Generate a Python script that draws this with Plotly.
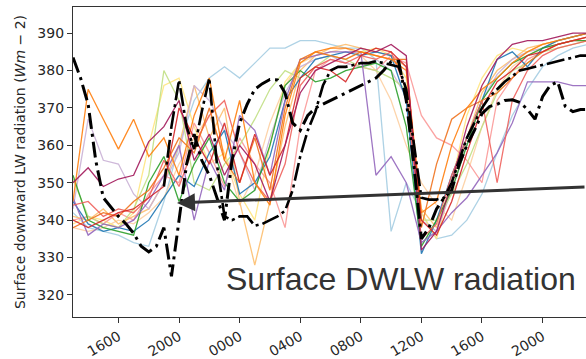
import pandas as pd
import plotly.graph_objects as go

# ---------------------------------------------------------------------------
# Time axes: hourly ensemble output and half-hourly reference series
# ---------------------------------------------------------------------------
START = "2019-06-01 13:00"
hourly = pd.date_range(START, periods=35, freq="h")
half_hourly = pd.date_range(START, periods=69, freq="30min")

# Ensemble members, surface downward LW radiation (W m-2), hourly
member_blue = [345, 339, 337, 338, 337, 340, 346, 352, 349, 358, 364, 347, 350, 357, 372, 378, 383, 384,
               385, 384, 385, 384, 372, 331, 340, 352, 362, 372, 383, 385, 381, 386, 388, 389, 390]
member_orange = [345, 375, 367, 359, 367, 357, 362, 352, 368, 378, 356, 372, 350, 344, 368, 382, 385, 386,
                 386, 385, 384, 383, 380, 342, 345, 360, 370, 375, 378, 382, 385, 387, 388, 389, 390]
member_green = [352, 340, 338, 337, 336, 350, 357, 345, 355, 362, 350, 345, 348, 360, 376, 380, 377, 378,
                380, 381, 382, 380, 365, 333, 340, 348, 360, 372, 378, 382, 384, 386, 387, 388, 388]
member_red = [340, 338, 340, 342, 343, 346, 349, 370, 362, 355, 366, 350, 363, 352, 360, 378, 381, 380,
              377, 384, 386, 385, 381, 340, 336, 345, 358, 370, 377, 380, 384, 385, 387, 388, 389]
member_purple = [346, 336, 339, 338, 340, 345, 352, 360, 340, 356, 348, 368, 364, 352, 372, 383, 384, 385,
                 385, 385, 352, 357, 350, 334, 337, 342, 346, 352, 358, 366, 377, 377, 377, 376, 376]
member_lightblue = [342, 338, 337, 336, 334, 333, 345, 360, 372, 378, 381, 378, 382, 386, 386, 388, 388, 387,
                    386, 386, 383, 337, 350, 342, 335, 336, 340, 347, 358, 368, 375, 381, 384, 386, 387]
member_lightorange = [341, 340, 343, 339, 341, 343, 350, 360, 376, 362, 370, 345, 328, 345, 365, 380, 384, 386,
                      387, 386, 385, 384, 381, 343, 338, 350, 362, 374, 380, 383, 386, 387, 388, 389, 390]
member_yellow = [339, 341, 340, 338, 342, 360, 376, 378, 365, 355, 358, 347, 340, 360, 377, 382, 385, 384,
                 383, 385, 386, 384, 378, 342, 335, 350, 368, 378, 384, 386, 385, 387, 388, 389, 390]
member_pink = [340, 341, 339, 342, 340, 347, 352, 350, 366, 358, 349, 362, 355, 350, 338, 365, 380, 383,
               382, 381, 380, 384, 382, 368, 362, 360, 356, 350, 372, 378, 383, 385, 387, 388, 388]
member_maroon = [350, 354, 349, 351, 352, 361, 365, 372, 356, 363, 352, 360, 355, 345, 360, 374, 380, 382,
                 384, 386, 385, 387, 384, 332, 337, 350, 365, 376, 383, 387, 388, 388, 389, 390, 390]
member_lavender = [343, 367, 356, 355, 347, 343, 350, 358, 376, 372, 364, 358, 348, 362, 374, 381, 383, 384,
                   382, 381, 383, 380, 373, 340, 337, 348, 360, 372, 379, 383, 385, 386, 387, 388, 389]
member_lime = [351, 341, 339, 338, 343, 352, 380, 372, 350, 348, 355, 360, 367, 375, 380, 378, 381, 384,
               383, 381, 380, 378, 375, 340, 340, 347, 355, 365, 374, 380, 382, 385, 386, 387, 388]
member_darkorange = [338, 340, 342, 341, 345, 348, 354, 362, 358, 370, 356, 350, 362, 348, 370, 383, 385, 384,
                     383, 385, 384, 383, 383, 338, 355, 367, 370, 372, 374, 378, 382, 385, 387, 388, 389]
member_peach = [338, 337, 338, 340, 339, 342, 346, 355, 362, 368, 358, 344, 352, 366, 376, 382, 384, 385,
                386, 384, 380, 372, 360, 350, 344, 340, 352, 365, 375, 381, 384, 386, 388, 389, 390]
member_salmon = [344, 345, 341, 343, 342, 346, 356, 349, 360, 368, 372, 358, 350, 345, 355, 376, 381, 383,
                 382, 384, 383, 385, 375, 335, 339, 352, 362, 372, 350, 372, 380, 384, 386, 387, 388]

# Reference series, half-hourly
obs_main = [383.5, 378, 371, 356, 346, 343.5, 341, 339, 336.5, 333, 331.5, 333, 338, 325, 340, 355, 363,
            356, 352, 346, 340, 356, 366, 371, 375, 376.5, 377.6, 377.5, 374, 366, 364, 368, 370, 371,
            372, 373, 374, 375, 376, 377, 378, 380, 382.4, 382.5, 372, 355, 335, 338, 343, 346, 348,
            355, 360, 364, 368.5, 370.4, 371, 372, 372.2, 371.5, 369.6, 367, 373, 376, 377, 370.4, 369,
            369.6, 369.6]
obs_second = [None] * 12 + [349, 365, 377.5, 365, 359, 369, 378, 355, 341, 340, 341, 341, 338.5, 339, 340,
                            341, 342.5, 348, 357, 364, 369, 376, 380, 381, 381, 381.5, 382, 382, 382.5, 382,
                            381.5, 381, 375, 360, 346, 345.5, 345.5, 346, 350, 356, 362, 366, 370, 373, 375,
                            377, 378.5, 380, 380.5, 381, 381.5, 382, 382.5, 383, 383.5, 384, 384]

ensemble = [
    (member_lightblue, "#a6cee3"),
    (member_peach, "#fdd0a2"),
    (member_yellow, "#ffe680"),
    (member_lightorange, "#fdbf6f"),
    (member_pink, "#fb9a99"),
    (member_lavender, "#cab2d6"),
    (member_lime, "#c2e085"),
    (member_blue, "#1f77b4"),
    (member_green, "#2ca02c"),
    (member_purple, "#9467bd"),
    (member_salmon, "#f0625d"),
    (member_darkorange, "#f0731e"),
    (member_orange, "#ff7f0e"),
    (member_red, "#d62728"),
    (member_maroon, "#a3195b"),
]

fig = go.Figure()

for values, colour in ensemble:
    fig.add_trace(go.Scatter(x=hourly, y=values, mode="lines",
                             line=dict(color=colour, width=1.3), opacity=0.9,
                             hoverinfo="skip"))

fig.add_trace(go.Scatter(x=half_hourly, y=obs_second, mode="lines",
                         line=dict(color="black", width=2.6, dash="18px,4px,3px,4px"),
                         connectgaps=False))
fig.add_trace(go.Scatter(x=half_hourly, y=obs_main, mode="lines",
                         line=dict(color="black", width=3, dash="16px,5px,3px,5px")))

# Arrow pointing at the evening dip of the reference series
ARROW_TIME = "2019-06-01 19:52"
ARROW_VALUE = 344.6
fig.add_annotation(x=ARROW_TIME, y=ARROW_VALUE, xref="x", yref="y", text="",
                   showarrow=True, arrowhead=2, arrowsize=1.2, arrowwidth=3,
                   arrowcolor="#333333", ax=409, ay=-16)
fig.add_annotation(x=0.295, y=0.1226, xref="paper", yref="paper", xanchor="left", yanchor="middle",
                   text="Surface DWLW radiation", showarrow=False,
                   font=dict(family="Liberation Sans, Arial, sans-serif", size=32, color="#333333"))

fig.update_layout(
    width=586, height=359,
    margin=dict(l=73, r=0, t=7, b=42),
    plot_bgcolor="white", paper_bgcolor="white",
    showlegend=False,
    font=dict(family="DejaVu Sans, sans-serif", size=14, color="#262626"),
)
fig.update_xaxes(
    type="date",
    range=["2019-06-01 13:00", "2019-06-02 22:52"],
    tick0="2019-06-01 16:00", dtick=4 * 3600 * 1000, tickformat="%H%M",
    tickangle=-30, ticks="outside", ticklen=5, tickwidth=1.2, tickcolor="#333333",
    showline=True, linecolor="#333333", linewidth=1.3, mirror=True,
    showgrid=False, zeroline=False,
)
fig.update_yaxes(
    range=[314.1, 397],
    tickvals=[320, 330, 340, 350, 360, 370, 380, 390],
    ticks="outside", ticklen=5, tickwidth=1.2, tickcolor="#333333",
    showline=True, linecolor="#333333", linewidth=1.3,
    showgrid=False, zeroline=False,
    title=dict(text="Surface downward LW radiation (<i>Wm</i> − 2)", standoff=8,
               font=dict(size=14, color="#262626")),
)

fig.write_html("out.html")
